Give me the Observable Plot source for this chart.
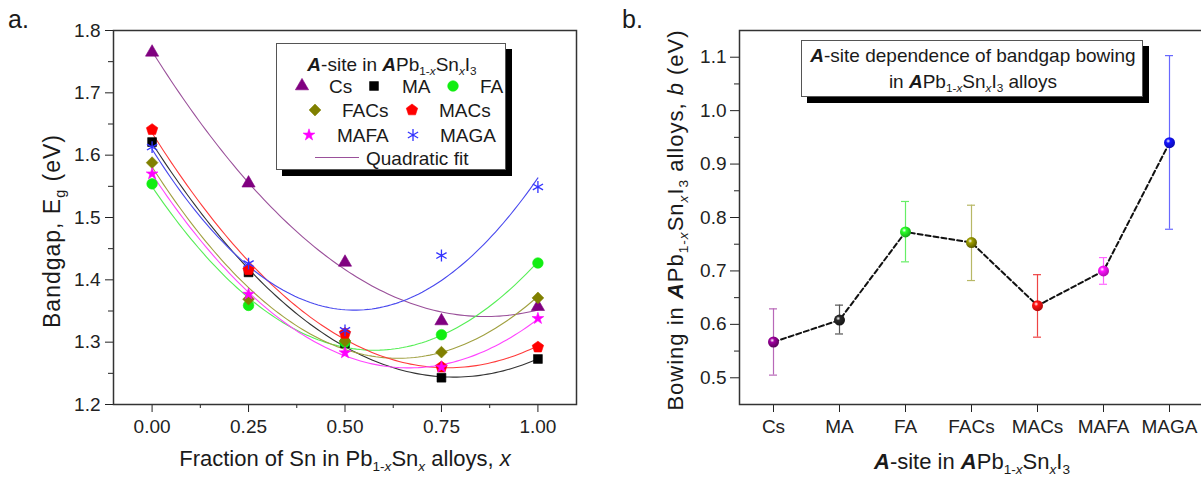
<!DOCTYPE html>
<html><head><meta charset="utf-8">
<script src="https://cdn.jsdelivr.net/npm/d3@7"></script>
<script src="https://cdn.jsdelivr.net/npm/@observablehq/plot@0.6"></script>
<style>
html,body{margin:0;padding:0;background:#fff;overflow:hidden}
#root{position:relative;width:1201px;height:478px;font-family:"Liberation Sans",Arial,sans-serif;color:#1a1a1a;overflow:hidden}
#root > svg{position:absolute;top:0}
.abs{position:absolute;white-space:nowrap;line-height:1}
.ctr{transform:translate(-50%,-50%)}
.rot{transform:translate(-50%,-50%) rotate(-90deg)}
.vc{transform:translateY(-50%)}
.sb{font-size:0.62em;position:relative;top:0.38em}
.box{position:absolute;background:#fff;border:1px solid #555;box-shadow:6px 6px 0 #000;box-sizing:border-box}
</style></head>
<body><div id="root"></div>
<script>
// ---------- data ----------
const xFrac = [0, 0.25, 0.5, 0.75, 1.0];
const egCs   = [1.765, 1.555, 1.428, 1.334, 1.357];
const egMA   = [1.621, 1.412, 1.298, 1.243, 1.273];
const egFA   = [1.554, 1.359, 1.300, 1.312, 1.427];
const egFACs = [1.588, 1.369, 1.302, 1.284, 1.371];
const egMACs = [1.641, 1.416, 1.314, 1.260, 1.292];
const egMAFA = [1.570, 1.377, 1.283, 1.260, 1.338];
const egMAGA = [1.613, 1.426, 1.319, 1.439, 1.549];

const sites  = ["Cs", "MA", "FA", "FACs", "MACs", "MAFA", "MAGA"];
const bowing = [0.567, 0.608, 0.773, 0.753, 0.635, 0.700, 0.940];
const bowLo  = [0.505, 0.582, 0.717, 0.682, 0.576, 0.675, 0.778];
const bowHi  = [0.629, 0.636, 0.830, 0.823, 0.693, 0.725, 1.103];

const xTicks = [0, 0.25, 0.5, 0.75, 1.0];
const xMinor = [0.125, 0.375, 0.625, 0.875];
const egTicks = [1.2, 1.3, 1.4, 1.5, 1.6, 1.7, 1.8];
const egMinor = [1.25, 1.35, 1.45, 1.55, 1.65, 1.75];
const bowTicks = [0.5, 0.6, 0.7, 0.8, 0.9, 1.0, 1.1];
const bowMinor = [0.55, 0.65, 0.75, 0.85, 0.95, 1.05];

// ---------- styles ----------
const pentagon = {
  draw(ctx, size) {
    const R = Math.sqrt(size / (2.5 * Math.sin(2 * Math.PI / 5)));
    for (let k = 0; k < 5; k++) {
      const a = -Math.PI / 2 + k * 2 * Math.PI / 5;
      const px = R * Math.cos(a), py = R * Math.sin(a);
      k ? ctx.lineTo(px, py) : ctx.moveTo(px, py);
    }
    ctx.closePath();
  }
};
const egSeries = [egCs, egMA, egFA, egFACs, egMACs, egMAFA, egMAGA];
const symType  = [d3.symbolTriangle, d3.symbolSquare, d3.symbolCircle, d3.symbolDiamond2, pentagon, d3.symbolStar, d3.symbolAsterisk];
const symR     = [4.9, 5.0, 5.3, 5.3, 5.2, 3.7, 5.6];
const ptColor  = ["#800080", "#000000", "#11ee11", "#808000", "#ff0000", "#ff00ff", "#3333ff"];
const fitColor = ["#9a509a", "#333333", "#55ee55", "#a0a040", "#ff3a3a", "#ff44ff", "#4848ee"];
const errColor = ["#b868b8", "#555555", "#66ee66", "#b8b866", "#ee4444", "#ff66ff", "#6868ff"];
const sphColor = ["#800080", "#202020", "#22ee22", "#808000", "#ff1010", "#ff10ff", "#1010ff"];

// quadratic least-squares fit
function quadFit(xs, ys) {
  let S = [0,0,0,0,0], T = [0,0,0];
  xs.forEach((x, i) => { for (let k = 0; k < 5; k++) S[k] += x ** k; for (let k = 0; k < 3; k++) T[k] += ys[i] * x ** k; });
  const A = [[S[0],S[1],S[2],T[0]],[S[1],S[2],S[3],T[1]],[S[2],S[3],S[4],T[2]]];
  for (let i = 0; i < 3; i++) {
    let p = i; for (let r = i+1; r < 3; r++) if (Math.abs(A[r][i]) > Math.abs(A[p][i])) p = r;
    [A[i], A[p]] = [A[p], A[i]];
    for (let r = 0; r < 3; r++) if (r !== i) { const f = A[r][i] / A[i][i]; for (let c = i; c < 4; c++) A[r][c] -= f * A[i][c]; }
  }
  return [A[0][3]/A[0][0], A[1][3]/A[1][1], A[2][3]/A[2][2]];
}

const fitX = d3.range(0, 1.00001, 0.01);
const fitRows = [], ptRows = [];
sites.forEach((s, i) => {
  const c = quadFit(xFrac, egSeries[i]);
  fitX.forEach(x => fitRows.push({site: s, x, y: c[0] + c[1]*x + c[2]*x*x, col: fitColor[i]}));
  xFrac.forEach((x, j) => ptRows.push({site: s, i, x, y: egSeries[i][j]}));
});

const font = {fontFamily: "'Liberation Sans', Arial, sans-serif", fontSize: "19px", color: "#222", background: "transparent", overflow: "visible"};

const left = Plot.plot({
  width: 600, height: 478,
  marginLeft: 113, marginRight: 24, marginTop: 30, marginBottom: 74,
  style: font,
  x: {domain: [-0.1, 1.1]},
  y: {domain: [1.2, 1.8]},
  color: {type: "identity"},
  marks: [
    Plot.axisX({ticks: xTicks, tickFormat: d3.format(".2f"), tickSize: 8, tickPadding: 7, label: null}),
    Plot.axisX({ticks: xMinor, tickFormat: () => "", tickSize: 4, label: null}),
    Plot.axisY({ticks: egTicks, tickFormat: d3.format(".1f"), tickSize: 8, tickPadding: 5, label: null}),
    Plot.axisY({ticks: egMinor, tickFormat: () => "", tickSize: 5, label: null}),
    Plot.line(fitRows, {x: "x", y: "y", z: "site", stroke: "col", strokeWidth: 1.1, curve: "linear"}),
    ...sites.map((s, i) => Plot.dot(ptRows.filter(d => d.i === i), {
      x: "x", y: "y", symbol: symType[i], r: symR[i],
      fill: s === "MAGA" ? "none" : ptColor[i],
      stroke: ptColor[i], strokeWidth: s === "MAGA" ? 1.3 : 0.6
    })),
    Plot.frame({stroke: "#333", strokeWidth: 1.5})
  ]
});

const bowRows = sites.map((s, i) => ({site: s, b: bowing[i], lo: bowLo[i], hi: bowHi[i], err: errColor[i], fill: `url(#sph${i})`}));

const defsMark = () => {
  const defs = d3.create("svg:defs");
  sphColor.forEach((c, i) => {
    const g = defs.append("radialGradient").attr("id", "sph" + i).attr("cx", "38%").attr("cy", "35%").attr("r", "65%");
    g.append("stop").attr("offset", "0%").attr("stop-color", "#ffffff");
    g.append("stop").attr("offset", "30%").attr("stop-color", d3.color(c).brighter(0.6));
    g.append("stop").attr("offset", "100%").attr("stop-color", d3.color(c).darker(1.0));
  });
  return defs.node();
};

const right = Plot.plot({
  width: 603, height: 478,
  marginLeft: 139, marginRight: 0, marginTop: 30, marginBottom: 74,
  style: font,
  x: {type: "band", domain: sites, padding: 0},
  y: {domain: [0.45, 1.15]},
  color: {type: "identity"},
  marks: [
    defsMark,
    Plot.axisX({tickSize: 8, tickPadding: 7, label: null}),
    Plot.axisY({ticks: bowTicks, tickFormat: d3.format(".1f"), tickSize: 9, tickPadding: 4, label: null}),
    Plot.axisY({ticks: bowMinor, tickFormat: () => "", tickSize: 5, label: null}),
    Plot.ruleX(bowRows, {x: "site", y1: "lo", y2: "hi", stroke: "err", strokeWidth: 1.2}),
    Plot.tickY(bowRows, {x: "site", y: "lo", stroke: "err", strokeWidth: 1.2, insetLeft: 29, insetRight: 29}),
    Plot.tickY(bowRows, {x: "site", y: "hi", stroke: "err", strokeWidth: 1.2, insetLeft: 29, insetRight: 29}),
    Plot.line(bowRows, {x: "site", y: "b", stroke: "#111", strokeWidth: 2, strokeDasharray: "5,3"}),
    Plot.dot(bowRows, {x: "site", y: "b", r: 5.5, fill: "fill", stroke: "none"}),
    Plot.frame({stroke: "#333", strokeWidth: 1.5})
  ]
});

const root = document.getElementById("root");
left.style.left = "0px";
right.style.left = "600px";
root.appendChild(left);
root.appendChild(right);

// ---------- text overlays ----------
const Ab = '<b><i>A</i></b>';
const formula = `${Ab}Pb<span class="sb">1-<i>x</i></span>Sn<span class="sb"><i>x</i></span>I<span class="sb">3</span>`;
function add(html, cls, style) {
  const d = document.createElement("div");
  d.className = "abs " + cls;
  d.setAttribute("style", style);
  d.innerHTML = html;
  root.appendChild(d);
  return d;
}
add("a.", "", "left:8px;top:7px;font-size:25px");
add("b.", "", "left:622px;top:7px;font-size:25px");
add('Bandgap, E<span class="sb">g</span> (eV)', "rot", "left:52px;top:231px;font-size:23px;letter-spacing:1px");
add('Fraction of Sn in Pb<span class="sb">1-<i>x</i></span>Sn<span class="sb"><i>x</i></span> alloys, <i>x</i>', "ctr", "left:345px;top:459px;font-size:22px");
add(`Bowing in ${formula} alloys, <i>b</i> (eV)`, "rot", "left:676px;top:220px;font-size:22px;letter-spacing:1px");
add(`${Ab}-site in ${formula}`, "ctr", "left:972px;top:462px;font-size:22px");

// left legend
const lg = document.createElement("div");
lg.className = "box";
lg.setAttribute("style", "left:276px;top:43px;width:230px;height:127px");
root.appendChild(lg);
function lgAdd(html, cls, style) {
  const d = document.createElement("div");
  d.className = "abs " + cls; d.setAttribute("style", style + ";font-size:19px"); d.innerHTML = html; lg.appendChild(d); return d;
}
lgAdd(`${Ab}-site in ${formula}`, "ctr", "left:115px;top:20px");
const lgPos = [[25, 52, 42], [97, 125, 42], [176, 203, 42], [38, 65, 66], [135, 162, 66], [32, 60, 91], [136, 163, 91]];
sites.forEach((s, i) => {
  const [sx, tx, y] = lgPos[i];
  const path = d3.symbol(symType[i], Math.PI * symR[i] * symR[i])();
  const fill = s === "MAGA" ? "none" : ptColor[i];
  lgAdd(`<svg width="18" height="18" style="overflow:visible;display:block"><path transform="translate(9,9)" d="${path}" fill="${fill}" stroke="${ptColor[i]}" stroke-width="${s === "MAGA" ? 1.3 : 0.6}"/></svg>`, "", `left:${sx - 9}px;top:${y - 9}px`);
  lgAdd(s, "vc", `left:${tx}px;top:${y}px`);
});
const ln = document.createElement("div");
ln.setAttribute("style", `position:absolute;left:38px;top:113px;width:44px;height:0;border-top:1.3px solid ${fitColor[0]}`);
lg.appendChild(ln);
lgAdd("Quadratic fit", "vc", "left:89px;top:114px");

// right legend
const rg = document.createElement("div");
rg.className = "box";
rg.setAttribute("style", "left:801px;top:40px;width:342px;height:57px");
root.appendChild(rg);
[[`${Ab}-site dependence of bandgap bowing`, 14], [`in ${formula} alloys`, 40]].forEach(([h, y]) => {
  const d = document.createElement("div");
  d.className = "abs ctr"; d.setAttribute("style", `left:171px;top:${y}px;font-size:19px`); d.innerHTML = h; rg.appendChild(d);
});
</script>
</body></html>
